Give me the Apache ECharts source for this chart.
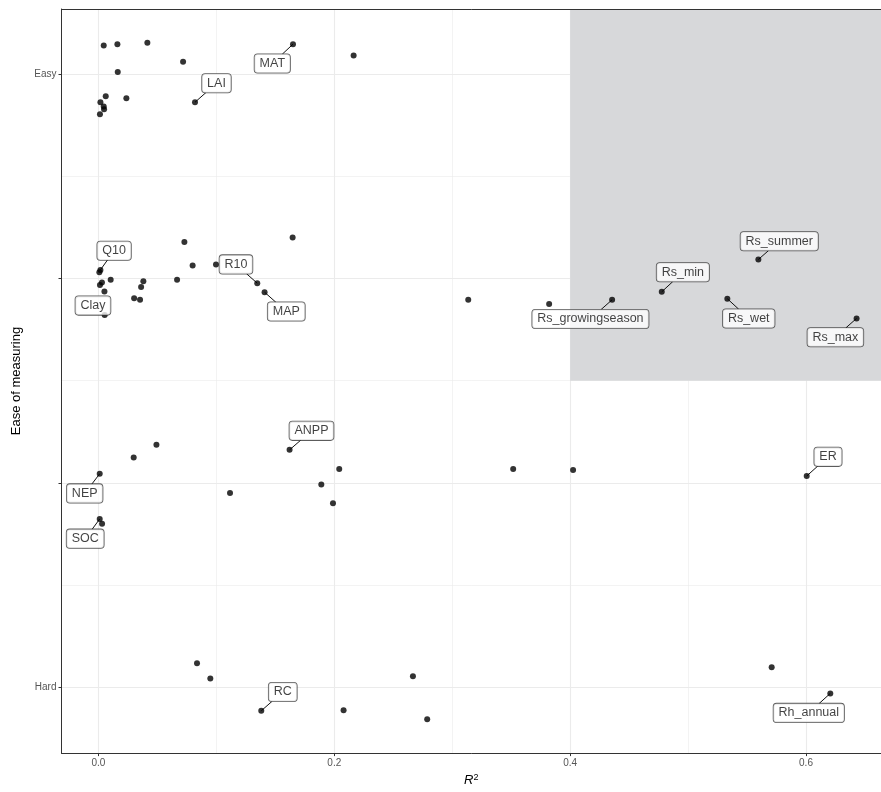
<!DOCTYPE html>
<html>
<head>
<meta charset="utf-8">
<script src="https://cdn.jsdelivr.net/npm/echarts@6/dist/echarts.min.js"></script>
<style>
  html, body { margin: 0; padding: 0; background: #fff; }
  #chart { width: 881px; height: 792px; }
</style>
</head>
<body>
<div id="chart"></div>
<script>
// ---- data ----
const pointLabel = [
  '', '', '', '', '', '', '', 'LAI', 'MAT', '', '', '', '', '',
  'Q10', '', '', '', '', '', 'Clay', '', '', '', '', '', '', '', '', 'R10', 'MAP', '',
  '', '', 'Rs_growingseason', 'Rs_min', 'Rs_summer', 'Rs_wet', 'Rs_max',
  'NEP', '', '', 'ANPP', '', '', '', '', 'SOC', '', '', '', 'ER',
  '', '', 'RC', '', '', '', '', 'Rh_annual'
];
const pointR2 = [
  0.0045, 0.0161, 0.0415, 0.0718, 0.0164, 0.0062, 0.0237, 0.0819, 0.1650, 0.2164, 0.0017, 0.0045, 0.0048, 0.0013,
  0.0017, 0.0008, 0.0104, 0.0030, 0.0013, 0.0051, 0.0053, 0.0381, 0.0362, 0.0303, 0.0353, 0.0667, 0.0799, 0.0729, 0.0997, 0.1347, 0.1409, 0.1647,
  0.3136, 0.3822, 0.4356, 0.4777, 0.5596, 0.5333, 0.6429,
  0.0011, 0.0299, 0.0492, 0.1621, 0.2042, 0.1890, 0.1989, 0.1116, 0.0011, 0.0031, 0.3517, 0.4025, 0.6006,
  0.0836, 0.0949, 0.1381, 0.2079, 0.2667, 0.2788, 0.5709, 0.6206
];
const pointEase = [
  4.140, 4.146, 4.153, 4.060, 4.010, 3.891, 3.881, 3.862, 4.146, 4.091, 3.862, 3.841, 3.828, 3.803,
  3.042, 3.031, 2.994, 2.980, 2.968, 2.936, 2.821, 2.986, 2.959, 2.903, 2.896, 2.994, 3.063, 3.179, 3.068, 2.977, 2.933, 3.200,
  2.896, 2.875, 2.896, 2.935, 3.093, 2.901, 2.805,
  2.045, 2.125, 2.187, 2.162, 2.068, 1.992, 1.901, 1.951, 1.824, 1.801, 2.068, 2.063, 2.034,
  1.119, 1.044, 0.886, 0.889, 1.055, 0.844, 1.099, 0.971
];
const xTicks = [0, 0.2, 0.4, 0.6];
const xMinorTicks = [0.1, 0.3, 0.5];
const yTicks = [1, 2, 3, 4];
const yMinorTicks = [1.5, 2.5, 3.5];
const yTickLabels = { 1: 'Hard', 2: '', 3: '', 4: 'Easy' };
const highlightR2From = 0.4;
const highlightEaseFrom = 2.5;

// ---- layout / style (not data) ----
const X_MIN = -0.0313, X_MAX = 0.6636, Y_MIN = 0.679, Y_MAX = 4.318;
const FONT = 'Liberation Sans, Arial, sans-serif';
const LABEL_SIZE = 12.5, LABEL_PAD_X = 5, LABEL_HALF_H = 9.25;
// label box offsets (px) relative to the point, repel-like placement
const labelOffset = {
  MAT: [-20.7, 19.3], LAI: [21.5, -19], Q10: [13.7, -19.2], Clay: [-11.7, -9.5],
  R10: [-21.3, -18.8], MAP: [21.7, 19.3], ANPP: [21.9, -19], NEP: [-15, 19.6],
  SOC: [-14.5, 19.7], RC: [21.5, -18.8], Rs_growingseason: [-21.7, 19.2],
  Rs_min: [21.1, -19.5], Rs_summer: [20.9, -18.3], Rs_wet: [21.4, 19.7],
  Rs_max: [-21.2, 18.8], ER: [21.3, -19.2], Rh_annual: [-21.5, 19.5]
};

const measureCtx = document.createElement('canvas').getContext('2d');
measureCtx.font = LABEL_SIZE + 'px ' + FONT;

const data = pointR2.map((x, i) => ({
  value: [x, pointEase[i]],
  name: pointLabel[i],
  label: { show: pointLabel[i] !== '' }
}));
const segData = [];
pointLabel.forEach((n, i) => { if (n) segData.push({ value: [pointR2[i], pointEase[i]], name: n }); });

const gridMajor = '#ebebeb';
const axisLineStyle = { show: true, onZero: false, lineStyle: { color: '#333333', width: 1 } };
const chart = echarts.init(document.getElementById('chart'), null, { renderer: 'canvas' });
chart.setOption({
  animation: false,
  backgroundColor: '#ffffff',
  grid: { left: 61.5, right: 0, top: 9, bottom: 38, show: false },
  xAxis: [{
    type: 'value', min: X_MIN, max: X_MAX, z: 10,
    name: '{i|R}{s|2}', nameLocation: 'middle', nameGap: 15,
    nameTextStyle: {
      fontFamily: FONT, fontSize: 13, color: '#000',
      rich: {
        i: { fontFamily: FONT, fontSize: 13, fontStyle: 'italic', color: '#000' },
        s: { fontFamily: FONT, fontSize: 9, color: '#000', verticalAlign: 'top', padding: [0, 0, 6, 0] }
      }
    },
    axisLine: axisLineStyle,
    axisTick: { show: true, customValues: xTicks, length: 3, lineStyle: { color: '#333', width: 1 } },
    axisLabel: {
      customValues: xTicks, margin: 5,
      fontFamily: FONT, fontSize: 10, color: '#555',
      formatter: v => v.toFixed(1)
    },
    splitLine: { show: false }
  }, {
    type: 'value', min: X_MIN, max: X_MAX, z: 10, position: 'top',
    axisLine: axisLineStyle, axisTick: { show: false }, axisLabel: { show: false }, splitLine: { show: false }
  }],
  yAxis: {
    type: 'value', min: Y_MIN, max: Y_MAX, z: 10, position: 'left',
    name: 'Ease of measuring', nameLocation: 'middle', nameGap: 36, nameRotate: 90,
    nameTextStyle: { fontFamily: FONT, fontSize: 13, color: '#000' },
    axisLine: axisLineStyle,
    axisTick: { show: true, customValues: yTicks, length: 3, lineStyle: { color: '#333', width: 1 } },
    axisLabel: {
      customValues: yTicks, margin: 5,
      fontFamily: FONT, fontSize: 10, color: '#555',
      formatter: v => yTickLabels[Math.round(v)] || ''
    },
    splitLine: { show: false }
  },
  series: [
    {
      type: 'scatter', data: [], silent: true, z: 1,
      markLine: {
        silent: true, symbol: 'none', z: 1, animation: false,
        label: { show: false },
        data: [
          ...xTicks.map(v => ({ xAxis: v, lineStyle: { color: gridMajor, width: 1.1, type: 'solid' } })),
          ...xMinorTicks.map(v => ({ xAxis: v, lineStyle: { color: gridMajor, width: 0.6, type: 'solid' } })),
          ...yTicks.map(v => ({ yAxis: v, lineStyle: { color: gridMajor, width: 1.1, type: 'solid' } })),
          ...yMinorTicks.map(v => ({ yAxis: v, lineStyle: { color: gridMajor, width: 0.6, type: 'solid' } }))
        ]
      }
    },
    {
      type: 'scatter', data: [], silent: true, z: 2,
      markArea: {
        silent: true, z: 2,
        itemStyle: { color: '#d7d8da' },
        data: [[{ xAxis: highlightR2From, yAxis: highlightEaseFrom }, { xAxis: X_MAX, yAxis: Y_MAX }]]
      }
    },
    {
      // connector segments from label box edge to point (repel style)
      type: 'custom', z: 3, silent: true, clip: false,
      data: segData,
      renderItem: function (params, api) {
        const p = api.coord([api.value(0), api.value(1)]);
        const name = segData[params.dataIndex].name;
        const o = labelOffset[name];
        const hw = measureCtx.measureText(name).width / 2 + LABEL_PAD_X;
        const tx = Math.abs(o[0]) > 0 ? hw / Math.abs(o[0]) : Infinity;
        const ty = Math.abs(o[1]) > 0 ? LABEL_HALF_H / Math.abs(o[1]) : Infinity;
        const t = Math.min(tx, ty);
        if (t >= 1) return null;
        return {
          type: 'line',
          shape: { x1: p[0] + o[0] * (1 - t), y1: p[1] + o[1] * (1 - t), x2: p[0], y2: p[1] },
          style: { stroke: '#111', lineWidth: 1 }
        };
      }
    },
    {
      type: 'scatter', z: 4,
      symbol: 'circle', symbolSize: 6,
      itemStyle: { color: '#000' },
      data: data,
      label: {
        position: 'inside',
        formatter: p => p.name,
        fontFamily: FONT, fontSize: LABEL_SIZE, color: '#111',
        backgroundColor: '#ffffff', borderColor: '#333333', borderWidth: 0.8, borderRadius: 3,
        padding: [2, LABEL_PAD_X, 2, LABEL_PAD_X], lineHeight: 14.5
      },
      labelLayout: function (params) {
        const name = pointLabel[params.dataIndex];
        const o = labelOffset[name];
        if (!o) return {};
        return { dx: o[0], dy: o[1], hideOverlap: false };
      }
    }
  ]
});
</script>
</body>
</html>
